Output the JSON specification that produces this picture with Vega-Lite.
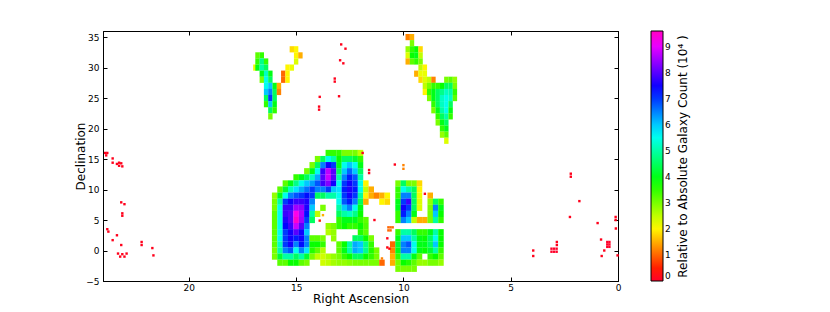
{"$schema":"https://vega.github.io/schema/vega-lite/v6.json","width":515,"height":250,"autosize":"none","padding":{"left":103,"top":31,"right":212,"bottom":31},"background":"white",
"config":{"font":"DejaVu Sans","view":{"stroke":"black","strokeWidth":1},"axis":{"grid":false,"domainColor":"black","tickColor":"black","labelColor":"black","titleColor":"black","labelFontSize":9,"titleFontSize":12,"titleFontWeight":"normal","tickSize":-4,"labelPadding":8,"labelFlush":false}},
"resolve":{"axis":{"x":"independent","y":"independent"}},
"layer":[
{"mark":{"type":"rect","width":5.5,"height":6.2},
"data":{"values":[
{"ra":13.5,"dec":16,"v":3.5},{"ra":13.25,"dec":16,"v":3.5},{"ra":13,"dec":16,"v":3.5},{"ra":12.75,"dec":16,"v":3},{"ra":12.5,"dec":16,"v":3},{"ra":12.25,"dec":16,"v":3},{"ra":12,"dec":16,"v":2.5},
{"ra":14,"dec":15,"v":3},{"ra":13.75,"dec":15,"v":4.5},{"ra":13.5,"dec":15,"v":5.5},{"ra":13.25,"dec":15,"v":5},{"ra":13,"dec":15,"v":3.8},{"ra":12.75,"dec":15,"v":4.5},{"ra":12.5,"dec":15,"v":4.5},{"ra":12.25,"dec":15,"v":4.2},{"ra":12,"dec":15,"v":3.5},
{"ra":14.25,"dec":14,"v":3},{"ra":14,"dec":14,"v":4.5},{"ra":13.75,"dec":14,"v":6.5},{"ra":13.5,"dec":14,"v":7.5},{"ra":13.25,"dec":14,"v":7},{"ra":13,"dec":14,"v":4},{"ra":12.75,"dec":14,"v":5.5},{"ra":12.5,"dec":14,"v":6},{"ra":12.25,"dec":14,"v":5.5},{"ra":12,"dec":14,"v":4},
{"ra":14.5,"dec":13,"v":3},{"ra":14.25,"dec":13,"v":4},{"ra":14,"dec":13,"v":5.5},{"ra":13.75,"dec":13,"v":7.8},{"ra":13.5,"dec":13,"v":8.7},{"ra":13.25,"dec":13,"v":8},{"ra":13,"dec":13,"v":4.5},{"ra":12.75,"dec":13,"v":6},{"ra":12.5,"dec":13,"v":6.7},{"ra":12.25,"dec":13,"v":6},{"ra":12,"dec":13,"v":4.5},
{"ra":15,"dec":12,"v":3.5},{"ra":14.75,"dec":12,"v":4},{"ra":14.5,"dec":12,"v":4.5},{"ra":14.25,"dec":12,"v":5.2},{"ra":14,"dec":12,"v":6.2},{"ra":13.75,"dec":12,"v":8},{"ra":13.5,"dec":12,"v":8.8},{"ra":13.25,"dec":12,"v":8},{"ra":13,"dec":12,"v":5},{"ra":12.75,"dec":12,"v":6.5},{"ra":12.5,"dec":12,"v":7.2},{"ra":12.25,"dec":12,"v":6.8},{"ra":12,"dec":12,"v":5},
{"ra":15.5,"dec":11,"v":3.2},{"ra":15.25,"dec":11,"v":4},{"ra":15,"dec":11,"v":4.8},{"ra":14.75,"dec":11,"v":5.5},{"ra":14.5,"dec":11,"v":6},{"ra":14.25,"dec":11,"v":6.3},{"ra":14,"dec":11,"v":6.8},{"ra":13.75,"dec":11,"v":7.8},{"ra":13.5,"dec":11,"v":8.3},{"ra":13.25,"dec":11,"v":7.5},{"ra":13,"dec":11,"v":5.5},{"ra":12.75,"dec":11,"v":7},{"ra":12.5,"dec":11,"v":7.5},{"ra":12.25,"dec":11,"v":7},{"ra":12,"dec":11,"v":5.5},{"ra":11.75,"dec":11,"v":2},{"ra":10.25,"dec":11,"v":3},{"ra":10,"dec":11,"v":4.5},{"ra":9.75,"dec":11,"v":3},{"ra":9.5,"dec":11,"v":3},{"ra":9.25,"dec":11,"v":1.8},
{"ra":15.75,"dec":10,"v":3.2},{"ra":15.5,"dec":10,"v":4.2},{"ra":15.25,"dec":10,"v":5.2},{"ra":15,"dec":10,"v":5.8},{"ra":14.75,"dec":10,"v":6.2},{"ra":14.5,"dec":10,"v":6.6},{"ra":14.25,"dec":10,"v":7},{"ra":14,"dec":10,"v":6.5},{"ra":13.75,"dec":10,"v":6.5},{"ra":13.5,"dec":10,"v":7},{"ra":13.25,"dec":10,"v":6},{"ra":13,"dec":10,"v":5.8},{"ra":12.75,"dec":10,"v":7.2},{"ra":12.5,"dec":10,"v":7.6},{"ra":12.25,"dec":10,"v":7.2},{"ra":12,"dec":10,"v":5.5},{"ra":11.75,"dec":10,"v":2.5},{"ra":11.5,"dec":10,"v":1.5},{"ra":10.25,"dec":10,"v":3.5},{"ra":10,"dec":10,"v":5.5},{"ra":9.75,"dec":10,"v":5},{"ra":9.5,"dec":10,"v":4.5},{"ra":9.25,"dec":10,"v":2},
{"ra":16,"dec":9,"v":2.8},{"ra":15.75,"dec":9,"v":4},{"ra":15.5,"dec":9,"v":5.5},{"ra":15.25,"dec":9,"v":6.5},{"ra":15,"dec":9,"v":6.8},{"ra":14.75,"dec":9,"v":7},{"ra":14.5,"dec":9,"v":7.3},{"ra":14.25,"dec":9,"v":7},{"ra":14,"dec":9,"v":4.5},{"ra":13.75,"dec":9,"v":4.5},{"ra":13.5,"dec":9,"v":5},{"ra":13.25,"dec":9,"v":5},{"ra":13,"dec":9,"v":5.5},{"ra":12.75,"dec":9,"v":7},{"ra":12.5,"dec":9,"v":7.5},{"ra":12.25,"dec":9,"v":7},{"ra":12,"dec":9,"v":5},{"ra":11.75,"dec":9,"v":2},{"ra":11.5,"dec":9,"v":1.5},{"ra":11.25,"dec":9,"v":1.2},{"ra":11,"dec":9,"v":1.5},{"ra":10.75,"dec":9,"v":2},{"ra":10.25,"dec":9,"v":3.5},{"ra":10,"dec":9,"v":6.5},{"ra":9.75,"dec":9,"v":6.5},{"ra":9.5,"dec":9,"v":4.5},{"ra":9.25,"dec":9,"v":2.2},{"ra":8.75,"dec":9,"v":1.5},
{"ra":16,"dec":8,"v":3},{"ra":15.75,"dec":8,"v":5},{"ra":15.5,"dec":8,"v":7},{"ra":15.25,"dec":8,"v":7.5},{"ra":15,"dec":8,"v":7.8},{"ra":14.75,"dec":8,"v":7.8},{"ra":14.5,"dec":8,"v":7.6},{"ra":14.25,"dec":8,"v":6.5},{"ra":13,"dec":8,"v":5.5},{"ra":12.75,"dec":8,"v":6.8},{"ra":12.5,"dec":8,"v":7.2},{"ra":12.25,"dec":8,"v":6.5},{"ra":12,"dec":8,"v":4.5},{"ra":11.75,"dec":8,"v":1.5},{"ra":11,"dec":8,"v":2},{"ra":10.75,"dec":8,"v":1.8},{"ra":10.25,"dec":8,"v":4},{"ra":10,"dec":8,"v":7},{"ra":9.75,"dec":8,"v":7.8},{"ra":9.5,"dec":8,"v":4.5},{"ra":9.25,"dec":8,"v":2.3},{"ra":8.75,"dec":8,"v":2.8},{"ra":8.5,"dec":8,"v":4.5},{"ra":8.25,"dec":8,"v":3.5},
{"ra":16,"dec":7,"v":3},{"ra":15.75,"dec":7,"v":5.5},{"ra":15.5,"dec":7,"v":7.8},{"ra":15.25,"dec":7,"v":7.8},{"ra":15,"dec":7,"v":8.5},{"ra":14.75,"dec":7,"v":8.4},{"ra":14.5,"dec":7,"v":7.6},{"ra":14.25,"dec":7,"v":6},{"ra":13.75,"dec":7,"v":3},{"ra":13,"dec":7,"v":5},{"ra":12.75,"dec":7,"v":6},{"ra":12.5,"dec":7,"v":6.5},{"ra":12.25,"dec":7,"v":5.5},{"ra":12,"dec":7,"v":4},{"ra":10.25,"dec":7,"v":4},{"ra":10,"dec":7,"v":7.5},{"ra":9.75,"dec":7,"v":7},{"ra":9.5,"dec":7,"v":4.5},{"ra":9.25,"dec":7,"v":2.3},{"ra":8.75,"dec":7,"v":3},{"ra":8.5,"dec":7,"v":6.5},{"ra":8.25,"dec":7,"v":4},
{"ra":16,"dec":6,"v":3.2},{"ra":15.75,"dec":6,"v":5.5},{"ra":15.5,"dec":6,"v":7.8},{"ra":15.25,"dec":6,"v":8},{"ra":15,"dec":6,"v":9.3},{"ra":14.75,"dec":6,"v":8.6},{"ra":14.5,"dec":6,"v":7.3},{"ra":14.25,"dec":6,"v":5},{"ra":14,"dec":6,"v":2.5},{"ra":13,"dec":6,"v":4.5},{"ra":12.75,"dec":6,"v":5},{"ra":12.5,"dec":6,"v":5.2},{"ra":12.25,"dec":6,"v":4.8},{"ra":12,"dec":6,"v":3.8},{"ra":10.25,"dec":6,"v":3.5},{"ra":10,"dec":6,"v":7.2},{"ra":9.75,"dec":6,"v":6.5},{"ra":9.5,"dec":6,"v":4},{"ra":8.75,"dec":6,"v":3},{"ra":8.5,"dec":6,"v":6},{"ra":8.25,"dec":6,"v":3.8},
{"ra":16,"dec":5,"v":3.2},{"ra":15.75,"dec":5,"v":5.5},{"ra":15.5,"dec":5,"v":7.6},{"ra":15.25,"dec":5,"v":8},{"ra":15,"dec":5,"v":9.5},{"ra":14.75,"dec":5,"v":8.5},{"ra":14.5,"dec":5,"v":7},{"ra":14.25,"dec":5,"v":4.5},{"ra":13,"dec":5,"v":3.5},{"ra":12.75,"dec":5,"v":4},{"ra":12.5,"dec":5,"v":4},{"ra":12.25,"dec":5,"v":4},{"ra":12,"dec":5,"v":3.5},{"ra":11.75,"dec":5,"v":3.2},{"ra":10.25,"dec":5,"v":3.5},{"ra":10,"dec":5,"v":6.5},{"ra":9.75,"dec":5,"v":6},{"ra":9.5,"dec":5,"v":2.5},{"ra":9.25,"dec":5,"v":1.5},{"ra":9,"dec":5,"v":1.5},{"ra":8.75,"dec":5,"v":3},{"ra":8.5,"dec":5,"v":5},{"ra":8.25,"dec":5,"v":3.5},
{"ra":16,"dec":4,"v":3.2},{"ra":15.75,"dec":4,"v":5.5},{"ra":15.5,"dec":4,"v":7.4},{"ra":15.25,"dec":4,"v":7.8},{"ra":15,"dec":4,"v":8.8},{"ra":14.75,"dec":4,"v":8},{"ra":14.5,"dec":4,"v":6.5},{"ra":13.5,"dec":4,"v":2.8},{"ra":13.25,"dec":4,"v":3},{"ra":13,"dec":4,"v":3.5},{"ra":12.75,"dec":4,"v":3.8},{"ra":12.5,"dec":4,"v":3.5},{"ra":12.25,"dec":4,"v":3.5},{"ra":12,"dec":4,"v":3.8},{"ra":11.75,"dec":4,"v":3.3},
{"ra":16,"dec":3,"v":3.2},{"ra":15.75,"dec":3,"v":5.5},{"ra":15.5,"dec":3,"v":7},{"ra":15.25,"dec":3,"v":7.5},{"ra":15,"dec":3,"v":8},{"ra":14.75,"dec":3,"v":7.5},{"ra":14.5,"dec":3,"v":6},{"ra":13.5,"dec":3,"v":2.6},{"ra":13.25,"dec":3,"v":2.8},{"ra":12,"dec":3,"v":3.6},{"ra":11.75,"dec":3,"v":3.2},{"ra":10.25,"dec":3,"v":3.5},{"ra":10,"dec":3,"v":5},{"ra":9.75,"dec":3,"v":5},{"ra":9.5,"dec":3,"v":4.5},{"ra":9.25,"dec":3,"v":3.5},{"ra":9,"dec":3,"v":3.5},{"ra":8.75,"dec":3,"v":4},{"ra":8.5,"dec":3,"v":5},{"ra":8.25,"dec":3,"v":3.8},
{"ra":16,"dec":2,"v":3.2},{"ra":15.75,"dec":2,"v":5.5},{"ra":15.5,"dec":2,"v":7},{"ra":15.25,"dec":2,"v":7.5},{"ra":15,"dec":2,"v":7.2},{"ra":14.75,"dec":2,"v":7.5},{"ra":14.5,"dec":2,"v":6.5},{"ra":14.25,"dec":2,"v":3.2},{"ra":14,"dec":2,"v":3.2},{"ra":13.75,"dec":2,"v":3},{"ra":13.25,"dec":2,"v":2.8},{"ra":12.25,"dec":2,"v":4.5},{"ra":12,"dec":2,"v":4.5},{"ra":11.75,"dec":2,"v":3.8},{"ra":11.5,"dec":2,"v":3},{"ra":10.25,"dec":2,"v":4},{"ra":10,"dec":2,"v":6},{"ra":9.75,"dec":2,"v":6},{"ra":9.5,"dec":2,"v":5},{"ra":9.25,"dec":2,"v":4},{"ra":9,"dec":2,"v":3.8},{"ra":8.75,"dec":2,"v":4.5},{"ra":8.5,"dec":2,"v":5.5},{"ra":8.25,"dec":2,"v":3.8},
{"ra":16,"dec":1,"v":3.2},{"ra":15.75,"dec":1,"v":5.2},{"ra":15.5,"dec":1,"v":7},{"ra":15.25,"dec":1,"v":7.5},{"ra":15,"dec":1,"v":6.5},{"ra":14.75,"dec":1,"v":7.3},{"ra":14.5,"dec":1,"v":6.5},{"ra":14.25,"dec":1,"v":3.8},{"ra":14,"dec":1,"v":3.8},{"ra":13.75,"dec":1,"v":3.5},{"ra":13,"dec":1,"v":3.2},{"ra":12.75,"dec":1,"v":3.8},{"ra":12.5,"dec":1,"v":5},{"ra":12.25,"dec":1,"v":6.2},{"ra":12,"dec":1,"v":6},{"ra":11.75,"dec":1,"v":4.8},{"ra":11.5,"dec":1,"v":3.5},{"ra":10.5,"dec":1,"v":1},{"ra":10.25,"dec":1,"v":4.2},{"ra":10,"dec":1,"v":6.5},{"ra":9.75,"dec":1,"v":6.8},{"ra":9.5,"dec":1,"v":5.5},{"ra":9.25,"dec":1,"v":4},{"ra":9,"dec":1,"v":4},{"ra":8.75,"dec":1,"v":4.5},{"ra":8.5,"dec":1,"v":6},{"ra":8.25,"dec":1,"v":3.8},
{"ra":16,"dec":0,"v":3},{"ra":15.75,"dec":0,"v":5},{"ra":15.5,"dec":0,"v":6.5},{"ra":15.25,"dec":0,"v":6.8},{"ra":15,"dec":0,"v":5.5},{"ra":14.75,"dec":0,"v":6.5},{"ra":14.5,"dec":0,"v":5.8},{"ra":14.25,"dec":0,"v":3.6},{"ra":14,"dec":0,"v":3.2},{"ra":13.75,"dec":0,"v":2.6},{"ra":13,"dec":0,"v":3.2},{"ra":12.75,"dec":0,"v":4},{"ra":12.5,"dec":0,"v":5},{"ra":12.25,"dec":0,"v":6.2},{"ra":12,"dec":0,"v":6},{"ra":11.75,"dec":0,"v":4.8},{"ra":11.5,"dec":0,"v":3.6},{"ra":11.25,"dec":0,"v":3},{"ra":10.5,"dec":0,"v":1.2},{"ra":10.25,"dec":0,"v":4},{"ra":10,"dec":0,"v":6.5},{"ra":9.75,"dec":0,"v":6.5},{"ra":9.5,"dec":0,"v":5.5},{"ra":9.25,"dec":0,"v":4},{"ra":9,"dec":0,"v":3.8},{"ra":8.75,"dec":0,"v":4.2},{"ra":8.5,"dec":0,"v":5},{"ra":8.25,"dec":0,"v":3.5},
{"ra":16,"dec":-1,"v":3},{"ra":15.75,"dec":-1,"v":4.2},{"ra":15.5,"dec":-1,"v":5},{"ra":15.25,"dec":-1,"v":5},{"ra":15,"dec":-1,"v":4.5},{"ra":14.75,"dec":-1,"v":5},{"ra":14.5,"dec":-1,"v":4.2},{"ra":14.25,"dec":-1,"v":3},{"ra":14,"dec":-1,"v":2.5},{"ra":13.75,"dec":-1,"v":2.4},{"ra":13.5,"dec":-1,"v":2.6},{"ra":13.25,"dec":-1,"v":2.8},{"ra":13,"dec":-1,"v":3},{"ra":12.75,"dec":-1,"v":3.5},{"ra":12.5,"dec":-1,"v":3.8},{"ra":12.25,"dec":-1,"v":4.5},{"ra":12,"dec":-1,"v":4.5},{"ra":11.75,"dec":-1,"v":3.8},{"ra":11.5,"dec":-1,"v":3.5},{"ra":11.25,"dec":-1,"v":3},{"ra":10.5,"dec":-1,"v":1.5},{"ra":10.25,"dec":-1,"v":3.5},{"ra":10,"dec":-1,"v":5},{"ra":9.75,"dec":-1,"v":5},{"ra":9.5,"dec":-1,"v":4},{"ra":9.25,"dec":-1,"v":3.2},{"ra":8.75,"dec":-1,"v":3.5},{"ra":8.5,"dec":-1,"v":3.8},{"ra":8.25,"dec":-1,"v":3.2},
{"ra":15.75,"dec":-2,"v":3.2},{"ra":15.5,"dec":-2,"v":3.2},{"ra":15.25,"dec":-2,"v":3.8},{"ra":15,"dec":-2,"v":3.8},{"ra":14.75,"dec":-2,"v":3.2},{"ra":14.5,"dec":-2,"v":3},{"ra":13.75,"dec":-2,"v":2.4},{"ra":13.5,"dec":-2,"v":2.5},{"ra":13.25,"dec":-2,"v":2.7},{"ra":13,"dec":-2,"v":2.8},{"ra":12.75,"dec":-2,"v":2.8},{"ra":12.5,"dec":-2,"v":2.9},{"ra":12.25,"dec":-2,"v":3},{"ra":12,"dec":-2,"v":3},{"ra":11.75,"dec":-2,"v":3},{"ra":11.5,"dec":-2,"v":3},{"ra":11.25,"dec":-2,"v":3},{"ra":11,"dec":-2,"v":1},{"ra":10.5,"dec":-2,"v":1.5},{"ra":10.25,"dec":-2,"v":3},{"ra":10,"dec":-2,"v":3.8},{"ra":9.75,"dec":-2,"v":3.6},{"ra":9.5,"dec":-2,"v":3.2},{"ra":9.25,"dec":-2,"v":2.8},{"ra":9,"dec":-2,"v":2.8},{"ra":8.75,"dec":-2,"v":3},{"ra":8.5,"dec":-2,"v":3},{"ra":8.25,"dec":-2,"v":2.8},
{"ra":10.25,"dec":-3,"v":3},{"ra":10,"dec":-3,"v":3},{"ra":9.75,"dec":-3,"v":3},{"ra":9.5,"dec":-3,"v":3}
]},
"encoding":{
"x":{"field":"ra","type":"quantitative","scale":{"domain":[24,0],"nice":false,"zero":false},"axis":{"values":[0,5,10,15,20],"title":"Right Ascension","titlePadding":1,"labelPadding":6,"format":"d"}},
"y":{"field":"dec","type":"quantitative","scale":{"domain":[-5,36],"nice":false,"zero":false},"axis":{"values":[-5,0,5,10,15,20,25,30,35],"title":"Declination","titlePadding":-2,"format":"d"}},
"color":{"field":"v","type":"quantitative","scale":{"domain":[0,0.288,2.064,3.84,5.626,7.39,9.16,9.6],"range":["#ff0029","#ff0000","#ffff00","#00ff00","#00ffff","#0000ff","#ff00ff","#ff00bf"],"interpolate":"rgb"},
"legend":{"title":null,"orient":"none","legendX":548,"legendY":0,"gradientLength":250,"gradientThickness":12,"gradientStrokeColor":"black","gradientStrokeWidth":1,"values":[0,1,2,3,4,5,6,7,8,9],"labelFontSize":9,"labelColor":"black","labelBaseline":"middle","format":"d"}}
}},
{"mark":{"type":"rect","width":4.4,"height":6.2},
"data":{"values":[
{"ra":16.8,"dec":32,"v":3.2},{"ra":16.6,"dec":32,"v":3.5},{"ra":16.8,"dec":31,"v":3.5},{"ra":16.6,"dec":31,"v":4.8},{"ra":16.4,"dec":31,"v":3.5},{"ra":16.9,"dec":30,"v":2.2},{"ra":16.8,"dec":30,"v":4},{"ra":16.6,"dec":30,"v":5},{"ra":16.4,"dec":30,"v":4.5},{"ra":16.6,"dec":29,"v":4},{"ra":16.4,"dec":29,"v":5.2},{"ra":16.2,"dec":29,"v":4},{"ra":16.6,"dec":28,"v":3},{"ra":16.4,"dec":28,"v":5.5},{"ra":16.2,"dec":28,"v":4.5},{"ra":16.4,"dec":27,"v":5.5},{"ra":16.2,"dec":27,"v":6},{"ra":16,"dec":27,"v":4},{"ra":15.8,"dec":27,"v":1.5},{"ra":16.4,"dec":26,"v":6},{"ra":16.2,"dec":26,"v":6.5},{"ra":16,"dec":26,"v":4.5},{"ra":15.8,"dec":26,"v":1.2},{"ra":16.4,"dec":25,"v":4.5},{"ra":16.2,"dec":25,"v":7},{"ra":16,"dec":25,"v":4.5},{"ra":16.4,"dec":24,"v":3.5},{"ra":16.2,"dec":24,"v":6},{"ra":16,"dec":24,"v":4},{"ra":16.2,"dec":23,"v":4.5},{"ra":16,"dec":23,"v":3.5},{"ra":16.2,"dec":22,"v":3},
{"ra":15.2,"dec":33,"v":1.8},{"ra":15,"dec":33,"v":2},{"ra":15,"dec":32,"v":2},{"ra":14.8,"dec":32,"v":1.5},{"ra":15,"dec":31,"v":2.3},{"ra":15.4,"dec":30,"v":2},{"ra":15.2,"dec":30,"v":2.2},{"ra":15.6,"dec":29,"v":1},{"ra":15.4,"dec":29,"v":2},{"ra":15.6,"dec":28,"v":1},{"ra":15.4,"dec":28,"v":2},
{"ra":9.8,"dec":35,"v":1.2},{"ra":9.6,"dec":35,"v":1.5},{"ra":9.6,"dec":34,"v":3},{"ra":9.8,"dec":33,"v":2.8},{"ra":9.6,"dec":33,"v":3.5},{"ra":9.4,"dec":33,"v":3.8},{"ra":9.2,"dec":33,"v":1.8},{"ra":9.8,"dec":32,"v":2.3},{"ra":9.6,"dec":32,"v":3.8},{"ra":9.4,"dec":32,"v":4},{"ra":9.2,"dec":32,"v":2.5},{"ra":9.8,"dec":31,"v":1.5},{"ra":9.6,"dec":31,"v":3.2},{"ra":9.4,"dec":31,"v":3.5},{"ra":9.2,"dec":31,"v":3},{"ra":9.2,"dec":30,"v":2.5},{"ra":9,"dec":30,"v":2},{"ra":9.4,"dec":29,"v":1.5},{"ra":9.2,"dec":29,"v":2.2},{"ra":9,"dec":29,"v":2.2},{"ra":9.2,"dec":28,"v":1.8},{"ra":9,"dec":28,"v":2.3},{"ra":8.8,"dec":28,"v":2.5},{"ra":8.6,"dec":28,"v":1.2},{"ra":8,"dec":28,"v":3},{"ra":7.8,"dec":28,"v":3.2},{"ra":7.6,"dec":28,"v":2.8},
{"ra":9,"dec":27,"v":2.5},{"ra":8.8,"dec":27,"v":3},{"ra":8.6,"dec":27,"v":3.5},{"ra":8.4,"dec":27,"v":3.5},{"ra":8.2,"dec":27,"v":3.8},{"ra":8,"dec":27,"v":4.5},{"ra":7.8,"dec":27,"v":4.5},{"ra":7.6,"dec":27,"v":3},{"ra":9,"dec":26,"v":2},{"ra":8.8,"dec":26,"v":3.5},{"ra":8.6,"dec":26,"v":4},{"ra":8.4,"dec":26,"v":4.5},{"ra":8.2,"dec":26,"v":4.8},{"ra":8,"dec":26,"v":5.2},{"ra":7.8,"dec":26,"v":5},{"ra":7.6,"dec":26,"v":3.5},{"ra":8.8,"dec":25,"v":3},{"ra":8.6,"dec":25,"v":4},{"ra":8.4,"dec":25,"v":4.5},{"ra":8.2,"dec":25,"v":5.2},{"ra":8,"dec":25,"v":5.5},{"ra":7.8,"dec":25,"v":5.2},{"ra":7.6,"dec":25,"v":3.2},{"ra":8.6,"dec":24,"v":3.5},{"ra":8.4,"dec":24,"v":4.5},{"ra":8.2,"dec":24,"v":5.2},{"ra":8,"dec":24,"v":5.5},{"ra":7.8,"dec":24,"v":4.5},{"ra":8.6,"dec":23,"v":3},{"ra":8.4,"dec":23,"v":4},{"ra":8.2,"dec":23,"v":5},{"ra":8,"dec":23,"v":5.5},{"ra":7.8,"dec":23,"v":4},{"ra":8.4,"dec":22,"v":3.5},{"ra":8.2,"dec":22,"v":4.5},{"ra":8,"dec":22,"v":5},{"ra":7.8,"dec":22,"v":3.5},{"ra":8.4,"dec":21,"v":3},{"ra":8.2,"dec":21,"v":4},{"ra":8,"dec":21,"v":4.5},{"ra":8.2,"dec":20,"v":3.5},{"ra":8,"dec":20,"v":4},{"ra":8.2,"dec":19,"v":2.8},{"ra":8,"dec":19,"v":3.2},{"ra":8,"dec":18,"v":2.3}
]},
"encoding":{"x":{"field":"ra","type":"quantitative","axis":{"orient":"top","values":[0,5,10,15,20],"labels":false,"title":null}},"y":{"field":"dec","type":"quantitative","axis":{"orient":"right","values":[-5,0,5,10,15,20,25,30,35],"labels":false,"title":"Relative to Absolute Galaxy Count (10⁴ )","titleAngle":270,"titleBaseline":"middle","titlePadding":64}},"color":{"field":"v","type":"quantitative"}}},
{"mark":{"type":"rect","width":2.4,"height":2.4},
"data":{"values":[
{"ra":23.9,"dec":16,"v":0.1},{"ra":23.8,"dec":16,"v":0.1},{"ra":23.85,"dec":15.6,"v":0.1},{"ra":23.55,"dec":15.1,"v":0.1},{"ra":23.55,"dec":14.4,"v":0.1},{"ra":23.35,"dec":14.2,"v":0.1},{"ra":23.25,"dec":14.4,"v":0.1},{"ra":23.15,"dec":14.3,"v":0.1},{"ra":23.25,"dec":13.9,"v":0.1},{"ra":23.1,"dec":13.8,"v":0.1},{"ra":23.15,"dec":7.9,"v":0.1},{"ra":23,"dec":7.6,"v":0.1},{"ra":23.1,"dec":6.1,"v":0.1},{"ra":23.1,"dec":5.7,"v":0.1},{"ra":23.8,"dec":3.5,"v":0.1},{"ra":23.75,"dec":3.1,"v":0.1},{"ra":23.55,"dec":1.7,"v":0.1},{"ra":23.35,"dec":2.5,"v":0.1},{"ra":23.15,"dec":0.9,"v":0.1},{"ra":23.3,"dec":-0.5,"v":0.1},{"ra":23.2,"dec":-1,"v":0.1},{"ra":23.1,"dec":-0.6,"v":0.1},{"ra":23,"dec":-1,"v":0.1},{"ra":22.9,"dec":-0.5,"v":0.1},{"ra":22.2,"dec":1.4,"v":0.1},{"ra":22.2,"dec":0.9,"v":0.1},{"ra":21.7,"dec":0.4,"v":0.1},{"ra":21.65,"dec":-0.8,"v":0.1},
{"ra":2.2,"dec":12.6,"v":0.1},{"ra":2.2,"dec":12.1,"v":0.1},{"ra":1.8,"dec":8.1,"v":0.1},{"ra":2.24,"dec":5.5,"v":0.1},{"ra":0.95,"dec":4.5,"v":0.1},{"ra":0.11,"dec":5.5,"v":0.1},{"ra":0.11,"dec":5,"v":0.1},{"ra":0.1,"dec":3.6,"v":0.1},{"ra":0.79,"dec":1.8,"v":0.1},{"ra":0.5,"dec":1.4,"v":0},{"ra":0.4,"dec":1.4,"v":0},{"ra":0.5,"dec":1,"v":0},{"ra":0.4,"dec":1,"v":0},{"ra":0.5,"dec":0.6,"v":0},{"ra":0.4,"dec":0.6,"v":0},{"ra":0.64,"dec":0,"v":0.1},{"ra":0.76,"dec":-0.9,"v":0.1},{"ra":0.02,"dec":-0.8,"v":0.1},{"ra":3.95,"dec":0,"v":0.1},{"ra":3.95,"dec":-0.9,"v":0.1},{"ra":3.1,"dec":0.3,"v":0},{"ra":2.98,"dec":0.3,"v":0},{"ra":2.86,"dec":0.3,"v":0},{"ra":3.1,"dec":-0.2,"v":0},{"ra":2.98,"dec":-0.2,"v":0},{"ra":2.86,"dec":-0.2,"v":0},{"ra":2.85,"dec":1.4,"v":0.1},{"ra":2.85,"dec":0.9,"v":0.1},
{"ra":12.9,"dec":33.8,"v":0.1},{"ra":12.7,"dec":33.1,"v":0.1},{"ra":12.95,"dec":31.2,"v":0.1},{"ra":12.8,"dec":30.7,"v":0.1},{"ra":13.2,"dec":28.2,"v":0.1},{"ra":13.2,"dec":27.7,"v":0.1},{"ra":13.9,"dec":25.2,"v":0.1},{"ra":13,"dec":25.3,"v":0.1},{"ra":13.93,"dec":23.6,"v":0.1},{"ra":13.93,"dec":23.1,"v":0.1},
{"ra":11.9,"dec":16,"v":0.1},{"ra":11.6,"dec":13.2,"v":0.1},{"ra":11.6,"dec":12.7,"v":0.1},{"ra":10.4,"dec":14.1,"v":0.1},{"ra":10,"dec":14,"v":1.2},{"ra":10,"dec":13.4,"v":1.2},{"ra":9,"dec":9.3,"v":0.1},{"ra":11.35,"dec":5,"v":0.1},{"ra":10.75,"dec":2,"v":0.1},{"ra":13.9,"dec":4.9,"v":0.5},{"ra":13.75,"dec":5.8,"v":1.5},{"ra":10.75,"dec":0.5,"v":0.2},{"ra":10.65,"dec":0.3,"v":0.2},{"ra":10.7,"dec":3.8,"v":1},{"ra":10.6,"dec":3.8,"v":1},{"ra":10.5,"dec":3.8,"v":1},{"ra":10.7,"dec":3.3,"v":1},{"ra":10.6,"dec":3.3,"v":1},{"ra":11,"dec":-1.3,"v":1.2}
]},
"encoding":{"x":{"field":"ra","type":"quantitative","axis":null},"y":{"field":"dec","type":"quantitative","axis":null},"color":{"field":"v","type":"quantitative"}}}
]}
